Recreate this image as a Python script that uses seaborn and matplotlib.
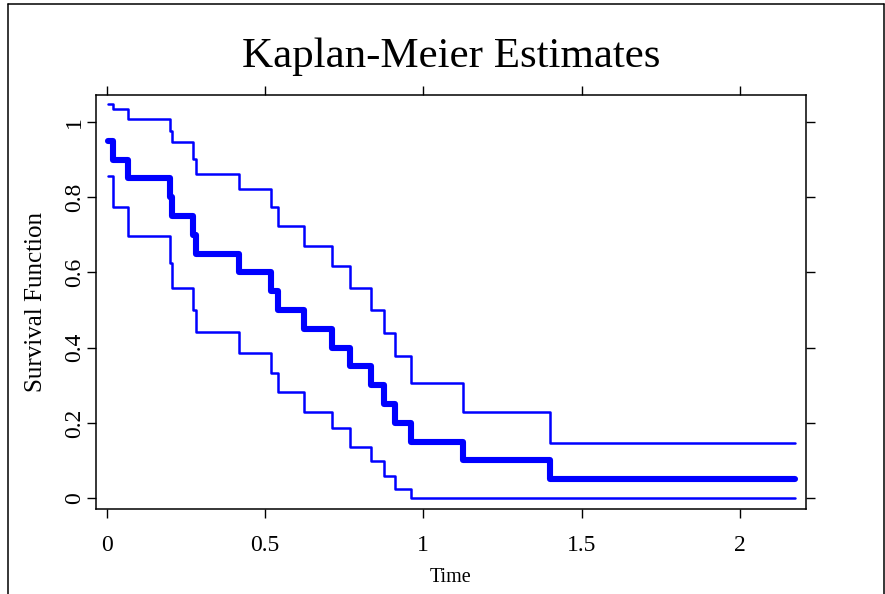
import numpy as np
import pandas as pd
import matplotlib
matplotlib.use("Agg")
import matplotlib.pyplot as plt
from matplotlib.lines import Line2D
import seaborn as sns

sns.set_style("ticks")
plt.rcParams["font.family"] = ["Liberation Serif", "DejaVu Serif"]
plt.rcParams["text.color"] = "black"
plt.rcParams["axes.labelcolor"] = "black"
plt.rcParams["xtick.color"] = "black"
plt.rcParams["ytick.color"] = "black"

# 事件时间（每一步下降的位置），最后一个是删失的终点
times = [0.004, 0.019, 0.067, 0.200, 0.206, 0.273, 0.282, 0.417, 0.519, 0.541,
         0.623, 0.713, 0.768, 0.834, 0.876, 0.910, 0.962, 1.125, 1.401, 2.174]
# Kaplan-Meier 估计
surv = [0.95, 0.90, 0.85, 0.80, 0.75, 0.70, 0.65, 0.60, 0.55, 0.50,
        0.45, 0.40, 0.35, 0.30, 0.25, 0.20, 0.15, 0.10, 0.05, 0.05]
# 置信区间上下界
upper = [1.047, 1.036, 1.007, 0.977, 0.946, 0.902, 0.861, 0.821, 0.773, 0.723,
         0.670, 0.617, 0.559, 0.501, 0.439, 0.379, 0.306, 0.230, 0.146, 0.146]
lower = [0.857, 0.773, 0.697, 0.626, 0.559, 0.500, 0.441, 0.385, 0.332, 0.281,
         0.228, 0.186, 0.137, 0.099, 0.059, 0.023, 0.000, 0.000, 0.000, 0.000]

x_ticks = [0, 0.5, 1, 1.5, 2]
x_tick_labels = ["0", "0.5", "1", "1.5", "2"]
y_ticks = [0, 0.2, 0.4, 0.6, 0.8, 1]
y_tick_labels = ["0", "0.2", "0.4", "0.6", "0.8", "1"]

df = pd.DataFrame({"time": times, "surv": surv, "upper": upper, "lower": lower})

fig = plt.figure(figsize=(8.85, 5.94), dpi=100)
ax = fig.add_axes([96/885, 1-509/594, 710/885, 414/594])

blue = "#0000ff"
for col in ["upper", "lower"]:
    sns.lineplot(data=df, x="time", y=col, ax=ax, color=blue, linewidth=1.8,
                 drawstyle="steps-post", estimator=None, sort=False,
                 solid_capstyle="round")
sns.lineplot(data=df, x="time", y="surv", ax=ax, color=blue, linewidth=4.4,
             drawstyle="steps-post", estimator=None, sort=False,
             solid_capstyle="round")

ax.set_xlim(-0.034, 2.209)
ax.set_ylim(-0.029, 1.072)
ax.set_xticks(x_ticks)
ax.set_xticklabels(x_tick_labels)
ax.set_yticks(y_ticks)
ax.set_yticklabels(y_tick_labels, rotation=90, va="center", ha="center")

for s in ax.spines.values():
    s.set_visible(True)
    s.set_color("black")
    s.set_linewidth(1.1)

ax.tick_params(axis="both", which="both", direction="out", length=6.5, width=1.0,
               color="black", top=True, right=True, labeltop=False, labelright=False,
               labelsize=17)
ax.tick_params(axis="x", pad=12)
ax.tick_params(axis="y", pad=9)

ax.set_xlabel("Time", fontsize=14.5)
ax.set_ylabel("Survival Function", fontsize=18)
ax.xaxis.set_label_coords(0.5, -(578-509)/414)
ax.xaxis.label.set_va("center")
ax.yaxis.set_label_coords(-(96-36)/710, 0.5)
ax.yaxis.label.set_va("center")

fig.text(451/885, 1-57/594, "Kaplan-Meier Estimates", fontsize=31,
         ha="center", va="center")

# 外框
for xs, ys in [([8/885, 8/885], [0, 1-4/594]),
               ([8/885, 884/885], [1-4/594, 1-4/594]),
               ([884/885, 884/885], [0, 1-4/594])]:
    fig.add_artist(Line2D(xs, ys, color="black", linewidth=1.1, transform=fig.transFigure))

fig.savefig("out.png", dpi=100)
